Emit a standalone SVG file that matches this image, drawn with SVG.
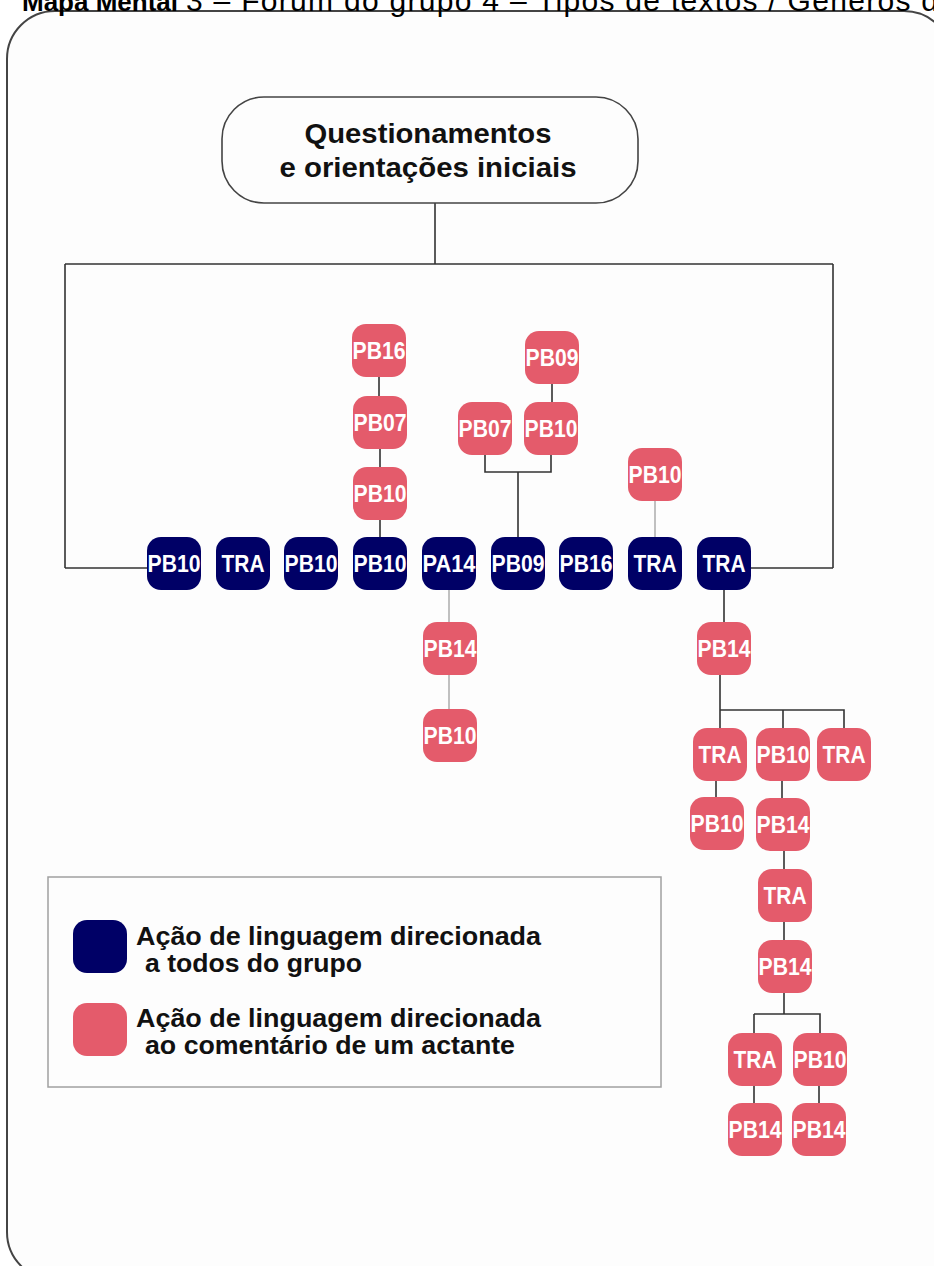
<svg xmlns="http://www.w3.org/2000/svg" width="934" height="1266" viewBox="0 0 934 1266">
<style>
.frame{fill:#fdfdfd;stroke:#444;stroke-width:2}
.dk{fill:#000066}
.pk{fill:#e45b6b}
.lbl{font-family:"Liberation Sans",Arial,sans-serif;font-weight:bold;font-size:23px;fill:#fff;text-anchor:middle}
.ln{fill:none;stroke:#333;stroke-width:1.6}
.lg{fill:none;stroke:#a0a0a0;stroke-width:1.3}
.ttl{font-family:"Liberation Sans",Arial,sans-serif;font-size:30px;fill:#000}
.big{font-family:"Liberation Sans",Arial,sans-serif;font-weight:bold;font-size:27px;fill:#111;text-anchor:middle}
.leg{font-family:"Liberation Sans",Arial,sans-serif;font-weight:bold;font-size:25px;fill:#111}
</style>
<defs>
<rect id="nb" width="54" height="53" rx="14"/>
</defs>
<rect width="934" height="1266" fill="#fff"/>
<rect class="frame" x="7" y="11" width="945" height="1269" rx="48"/>
<text class="ttl" y="11"><tspan x="22" font-weight="bold" font-size="26px" textLength="156" lengthAdjust="spacingAndGlyphs">Mapa Mental</tspan><tspan x="186" textLength="752" lengthAdjust="spacing">3 – Fórum do grupo 4 – Tipos de textos / Gêneros d</tspan></text>

<g id="connectors">
<path class="ln" d="M435 203V264M65 264H833M65 264V568M833 264V568M65 568H147M751 568H833"/>
<path class="ln" d="M379 377V396M380 449V467M380 520V537"/>
<path class="ln" d="M552 384V402M485 455V472H551V455M518 472V537"/>
<path class="lg" d="M655 501V537"/>
<path class="lg" d="M449 590V622M449 675V709"/>
<path class="ln" d="M724 590V622M720 675V710H844V728M720 710V728M783 710V728"/>
<path class="ln" d="M716 781V797M782 781V798"/>
<path class="ln" d="M784 851V869M784 922V940M784 993V1014M754 1014H820V1033M754 1014V1033"/>
<path class="ln" d="M754 1086V1103M819 1086V1103"/>
</g>

<g id="top">
<rect x="222" y="97" width="416" height="106" rx="42" fill="#fdfdfd" stroke="#444" stroke-width="1.6"/>
<text class="big" x="428" y="143" textLength="247" lengthAdjust="spacingAndGlyphs">Questionamentos</text>
<text class="big" x="428" y="177" textLength="297" lengthAdjust="spacingAndGlyphs">e orientações iniciais</text>
</g>

<g id="n1" class="dk"><use href="#nb" x="147" y="537"/><text class="lbl" x="174" y="572" textLength="53" lengthAdjust="spacingAndGlyphs">PB10</text></g>
<g id="n2" class="dk"><use href="#nb" x="216" y="537"/><text class="lbl" x="243" y="572" textLength="43" lengthAdjust="spacingAndGlyphs">TRA</text></g>
<g id="n3" class="dk"><use href="#nb" x="284" y="537"/><text class="lbl" x="311" y="572" textLength="53" lengthAdjust="spacingAndGlyphs">PB10</text></g>
<g id="n4" class="dk"><use href="#nb" x="353" y="537"/><text class="lbl" x="380" y="572" textLength="53" lengthAdjust="spacingAndGlyphs">PB10</text></g>
<g id="n5" class="dk"><use href="#nb" x="422" y="537"/><text class="lbl" x="449" y="572" textLength="53" lengthAdjust="spacingAndGlyphs">PA14</text></g>
<g id="n6" class="dk"><use href="#nb" x="491" y="537"/><text class="lbl" x="518" y="572" textLength="53" lengthAdjust="spacingAndGlyphs">PB09</text></g>
<g id="n7" class="dk"><use href="#nb" x="559" y="537"/><text class="lbl" x="586" y="572" textLength="53" lengthAdjust="spacingAndGlyphs">PB16</text></g>
<g id="n8" class="dk"><use href="#nb" x="628" y="537"/><text class="lbl" x="655" y="572" textLength="43" lengthAdjust="spacingAndGlyphs">TRA</text></g>
<g id="n9" class="dk"><use href="#nb" x="697" y="537"/><text class="lbl" x="724" y="572" textLength="43" lengthAdjust="spacingAndGlyphs">TRA</text></g>

<g id="p1" class="pk"><use href="#nb" x="352" y="324"/><text class="lbl" x="379" y="359" textLength="53" lengthAdjust="spacingAndGlyphs">PB16</text></g>
<g id="p2" class="pk"><use href="#nb" x="353" y="396"/><text class="lbl" x="380" y="431" textLength="53" lengthAdjust="spacingAndGlyphs">PB07</text></g>
<g id="p3" class="pk"><use href="#nb" x="353" y="467"/><text class="lbl" x="380" y="502" textLength="53" lengthAdjust="spacingAndGlyphs">PB10</text></g>
<g id="p4" class="pk"><use href="#nb" x="458" y="402"/><text class="lbl" x="485" y="437" textLength="53" lengthAdjust="spacingAndGlyphs">PB07</text></g>
<g id="p5" class="pk"><use href="#nb" x="524" y="402"/><text class="lbl" x="551" y="437" textLength="53" lengthAdjust="spacingAndGlyphs">PB10</text></g>
<g id="p6" class="pk"><use href="#nb" x="525" y="331"/><text class="lbl" x="552" y="366" textLength="53" lengthAdjust="spacingAndGlyphs">PB09</text></g>
<g id="p7" class="pk"><use href="#nb" x="628" y="448"/><text class="lbl" x="655" y="483" textLength="53" lengthAdjust="spacingAndGlyphs">PB10</text></g>
<g id="p8" class="pk"><use href="#nb" x="423" y="622"/><text class="lbl" x="450" y="657" textLength="53" lengthAdjust="spacingAndGlyphs">PB14</text></g>
<g id="p9" class="pk"><use href="#nb" x="423" y="709"/><text class="lbl" x="450" y="744" textLength="53" lengthAdjust="spacingAndGlyphs">PB10</text></g>
<g id="p10" class="pk"><use href="#nb" x="697" y="622"/><text class="lbl" x="724" y="657" textLength="53" lengthAdjust="spacingAndGlyphs">PB14</text></g>
<g id="p11" class="pk"><use href="#nb" x="693" y="728"/><text class="lbl" x="720" y="763" textLength="43" lengthAdjust="spacingAndGlyphs">TRA</text></g>
<g id="p12" class="pk"><use href="#nb" x="756" y="728"/><text class="lbl" x="783" y="763" textLength="53" lengthAdjust="spacingAndGlyphs">PB10</text></g>
<g id="p13" class="pk"><use href="#nb" x="817" y="728"/><text class="lbl" x="844" y="763" textLength="43" lengthAdjust="spacingAndGlyphs">TRA</text></g>
<g id="p14" class="pk"><use href="#nb" x="690" y="797"/><text class="lbl" x="717" y="832" textLength="53" lengthAdjust="spacingAndGlyphs">PB10</text></g>
<g id="p15" class="pk"><use href="#nb" x="756" y="798"/><text class="lbl" x="783" y="833" textLength="53" lengthAdjust="spacingAndGlyphs">PB14</text></g>
<g id="p16" class="pk"><use href="#nb" x="758" y="869"/><text class="lbl" x="785" y="904" textLength="43" lengthAdjust="spacingAndGlyphs">TRA</text></g>
<g id="p17" class="pk"><use href="#nb" x="758" y="940"/><text class="lbl" x="785" y="975" textLength="53" lengthAdjust="spacingAndGlyphs">PB14</text></g>
<g id="p18" class="pk"><use href="#nb" x="728" y="1033"/><text class="lbl" x="755" y="1068" textLength="43" lengthAdjust="spacingAndGlyphs">TRA</text></g>
<g id="p19" class="pk"><use href="#nb" x="793" y="1033"/><text class="lbl" x="820" y="1068" textLength="53" lengthAdjust="spacingAndGlyphs">PB10</text></g>
<g id="p20" class="pk"><use href="#nb" x="728" y="1103"/><text class="lbl" x="755" y="1138" textLength="53" lengthAdjust="spacingAndGlyphs">PB14</text></g>
<g id="p21" class="pk"><use href="#nb" x="792" y="1103"/><text class="lbl" x="819" y="1138" textLength="53" lengthAdjust="spacingAndGlyphs">PB14</text></g>

<g id="legend">
<rect x="48" y="877" width="613" height="210" fill="none" stroke="#a0a0a0" stroke-width="1.5"/>
<use class="dk" href="#nb" x="73" y="920"/>
<use class="pk" href="#nb" x="73" y="1003"/>
<text class="leg" x="136" y="945" textLength="405" lengthAdjust="spacingAndGlyphs">Ação de linguagem direcionada</text>
<text class="leg" x="145" y="972" textLength="217" lengthAdjust="spacingAndGlyphs">a todos do grupo</text>
<text class="leg" x="136" y="1027" textLength="405" lengthAdjust="spacingAndGlyphs">Ação de linguagem direcionada</text>
<text class="leg" x="145" y="1054" textLength="370" lengthAdjust="spacingAndGlyphs">ao comentário de um actante</text>
</g>
</svg>
